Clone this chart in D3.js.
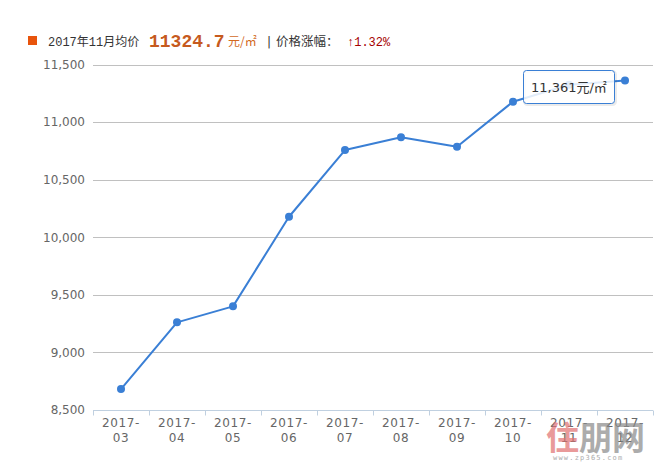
<!DOCTYPE html>
<html><head><meta charset="utf-8">
<script src="https://cdn.jsdelivr.net/npm/d3@7"></script>
<style>
html,body{margin:0;padding:0;background:#fff;}
svg{display:block;}
text{white-space:pre;}
</style></head>
<body>
<svg id="chart" width="672" height="464"></svg>
<script>
const months = ["2017-03","2017-04","2017-05","2017-06","2017-07","2017-08","2017-09","2017-10","2017-11","2017-12"];
const prices = [8682, 9261, 9400, 10178, 10757, 10869, 10786, 11177, 11324.7, 11361];
const yTicks = [8500, 9000, 9500, 10000, 10500, 11000, 11500];
const headerLabel = "2017年11月均价";
const headerValue = "11324.7";
const headerUnit = "元/㎡";
const changeLabel = "价格涨幅：";
const changeValue = "↑1.32%";
const tooltipIndex = 9;

const svg = d3.select("#chart");
const pLeft = 93, pRight = 653, pTop = 64.5, pBottom = 410;

const x = d3.scaleBand().domain(months).range([pLeft, pRight]);
const y = d3.scaleLinear().domain([8500, 11500]).range([pBottom, pTop]);

// header
svg.append("rect").attr("x", 28).attr("y", 36).attr("width", 9).attr("height", 9).attr("fill", "#e8540c");
svg.append("text").attr("x", 48).attr("y", 45.5)
  .attr("font-family", "'Liberation Mono','Noto Sans CJK SC',monospace").attr("font-size", 12).attr("fill", "#333")
  .text(headerLabel);
svg.append("text").attr("x", 149).attr("y", 47)
  .attr("font-family", "'Liberation Mono',monospace").attr("font-size", 18).attr("font-weight", "bold")
  .attr("fill", "#c65a1e").text(headerValue);
svg.append("text").attr("x", 228).attr("y", 46)
  .attr("font-family", "'Noto Sans CJK SC','Liberation Mono',sans-serif").attr("font-size", 12)
  .attr("fill", "#d2691e").text(headerUnit);
svg.append("text").attr("x", 267).attr("y", 46)
  .attr("font-family", "'DejaVu Sans',sans-serif").attr("font-size", 12).attr("fill", "#333")
  .text("|");
svg.append("text").attr("x", 276).attr("y", 46)
  .attr("font-family", "'Noto Sans CJK SC',sans-serif").attr("font-size", 12.5).attr("fill", "#333")
  .text(changeLabel);
svg.append("text").attr("x", 347).attr("y", 46)
  .attr("font-family", "'Liberation Mono','Noto Sans CJK SC',monospace").attr("font-size", 12).attr("fill", "#a50000")
  .text(changeValue);

// gridlines
svg.append("g").selectAll("line").data(yTicks.filter(d => d !== 8500)).join("line")
  .attr("x1", pLeft).attr("x2", pRight)
  .attr("y1", d => Math.round(y(d)) + 0.5).attr("y2", d => Math.round(y(d)) + 0.5)
  .attr("stroke", "#c0c0c0").attr("stroke-width", 1);

// y axis labels
const yAxis = d3.axisLeft(y).tickValues(yTicks).tickSize(0).tickPadding(8).tickFormat(d3.format(","));
const gy = svg.append("g").attr("transform", `translate(${pLeft},0)`).call(yAxis);
gy.select(".domain").remove();
gy.selectAll("text").attr("font-family", "'DejaVu Sans',sans-serif").attr("font-size", 12).attr("fill", "#666");

// x axis
const xb = Math.round(pBottom) + 0.5;
svg.append("line").attr("x1", pLeft).attr("x2", pRight).attr("y1", xb).attr("y2", xb).attr("stroke", "#c0d0e0");
const boundaries = months.map(m => x(m)).concat([pRight]);
svg.append("g").selectAll("line").data(boundaries).join("line")
  .attr("x1", d => Math.round(d) + 0.5).attr("x2", d => Math.round(d) + 0.5)
  .attr("y1", xb).attr("y2", xb + 5).attr("stroke", "#c0d0e0");
const xl = svg.append("g").selectAll("text").data(months).join("text")
  .attr("x", d => x(d) + x.bandwidth() / 2)
  .attr("text-anchor", "middle")
  .attr("font-family", "'DejaVu Sans',sans-serif").attr("font-size", 12).attr("fill", "#666")
  .attr("letter-spacing", 0.6);
xl.append("tspan").attr("x", d => x(d) + x.bandwidth() / 2).attr("y", 427).text(d => d.split("-")[0] + "-");
xl.append("tspan").attr("x", d => x(d) + x.bandwidth() / 2).attr("y", 442).text(d => d.split("-")[1]);

// watermark
const wm = svg.append("g").attr("opacity", 0.7);
const wmText = wm.append("text").attr("x", 546).attr("y", 450)
  .attr("font-family", "'Noto Sans CJK SC',sans-serif").attr("font-size", 33).attr("font-weight", "bold");
wmText.append("tspan").attr("fill", "#e07070").text("住");
wmText.append("tspan").attr("fill", "#8a8a8a").text("朋网");
wm.append("text").attr("x", 553).attr("y", 460)
  .attr("font-family", "'DejaVu Sans Mono',monospace").attr("font-size", 7).attr("fill", "#888")
  .attr("letter-spacing", 1.2).text("www.zp365.com");

// line
const line = d3.line().x((d, i) => x(months[i]) + x.bandwidth() / 2).y(d => y(d));
svg.append("path").datum(prices).attr("d", line)
  .attr("fill", "none").attr("stroke", "#3a7fd5").attr("stroke-width", 2).attr("stroke-linejoin", "round");
svg.append("g").selectAll("circle").data(prices).join("circle")
  .attr("cx", (d, i) => x(months[i]) + x.bandwidth() / 2).attr("cy", d => y(d))
  .attr("r", 4).attr("fill", "#3a7fd5");

// tooltip
const tx = x(months[tooltipIndex]) + x.bandwidth() / 2 - 102;
const ty = y(prices[tooltipIndex]) - 10.5;
const tip = svg.append("g").attr("transform", `translate(${tx},${ty})`);
tip.append("rect").attr("x", 1.5).attr("y", 1.5).attr("width", 91).attr("height", 33).attr("rx", 3)
  .attr("fill", "none").attr("stroke", "#000").attr("stroke-opacity", 0.08).attr("stroke-width", 3);
tip.append("rect").attr("x", 0.5).attr("y", 0.5).attr("width", 91).attr("height", 33).attr("rx", 3)
  .attr("fill", "#fff").attr("fill-opacity", 0.85).attr("stroke", "#3a7fd5").attr("stroke-width", 1);
tip.append("text").attr("x", 8).attr("y", 22)
  .attr("font-family", "'DejaVu Sans','Noto Sans CJK SC',sans-serif").attr("font-size", 13).attr("fill", "#333")
  .text(d3.format(",")(prices[tooltipIndex]) + "元/㎡");
</script>
</body></html>
